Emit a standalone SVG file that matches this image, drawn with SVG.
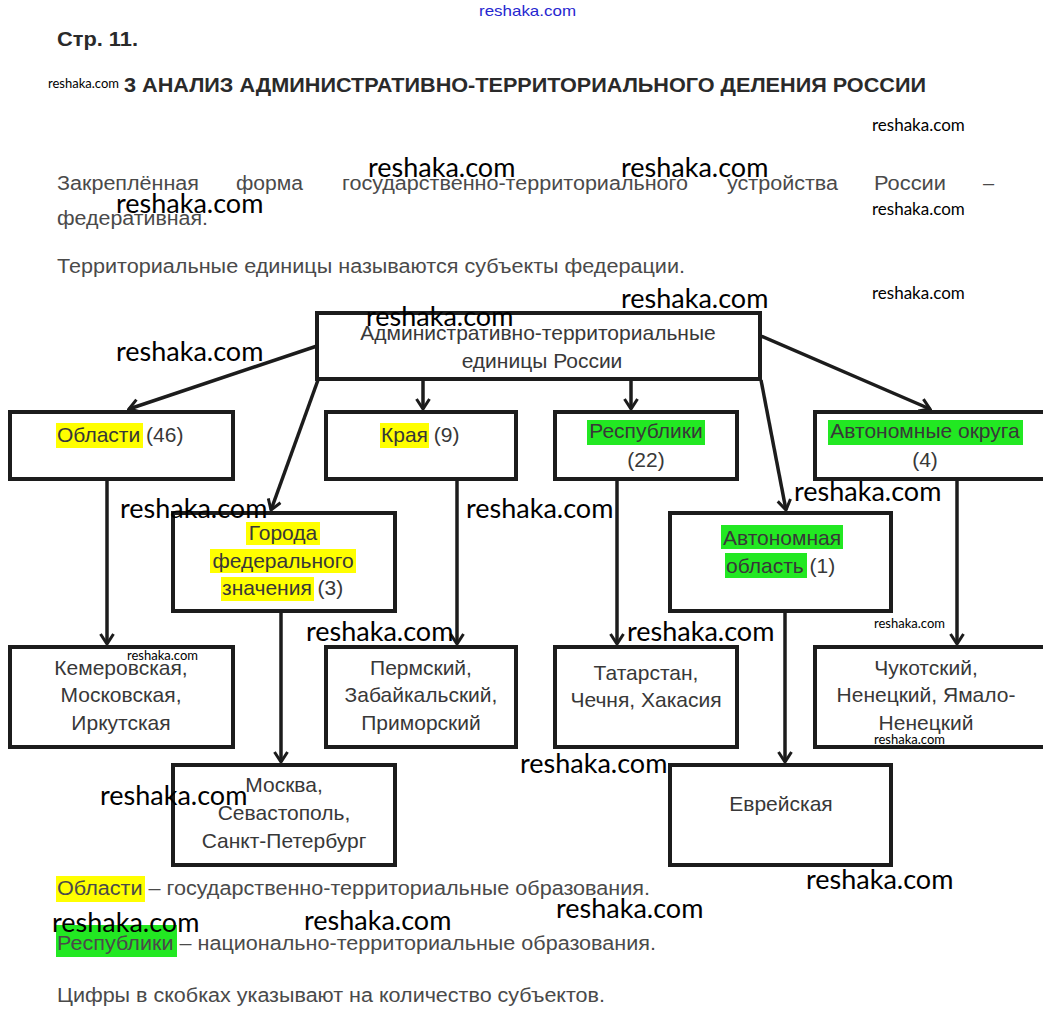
<svg xmlns="http://www.w3.org/2000/svg" width="1051" height="1022" viewBox="0 0 1051 1022">
<defs>
<style>
.bx{fill:#fff;stroke:#1c1c1c;stroke-width:4}
.op{fill:none;stroke:#1c1c1c;stroke-width:4}
.cn{fill:none;stroke:#1c1c1c;stroke-width:3.5;marker-end:url(#ah)}
.nt{font-family:"Liberation Sans",Arial,sans-serif;font-size:21px;fill:#383838}
.bd{font-family:"Liberation Sans",Arial,sans-serif;font-size:20px;fill:#4a4a4a}
.hd{font-family:"Liberation Sans",Arial,sans-serif;font-weight:bold;font-size:20px;fill:#2a2a2a}
.wm{font-family:Lato,"Open Sans",sans-serif;font-size:27px;fill:#000}
.ws{font-family:Lato,"Open Sans",sans-serif;font-size:17px;fill:#000}
.wx{font-family:Lato,"Open Sans",sans-serif;font-size:13px;fill:#000}
.yl{fill:#ffff00}
.gr{fill:#22e822}
</style>
<marker id="ah" viewBox="-12 -8 14 16" markerWidth="14" markerHeight="16" refX="0" refY="0" orient="auto" markerUnits="userSpaceOnUse">
<path d="M-10,-6.5 L0,0 L-10,6.5" fill="none" stroke="#1c1c1c" stroke-width="3"/>
</marker>
</defs>
<rect width="1051" height="1022" fill="#fff"/>

<g id="header">
<text x="479" y="16" font-family="'Liberation Sans',sans-serif" font-size="15" fill="#2626d0" textLength="97" lengthAdjust="spacingAndGlyphs">reshaka.com</text>
<text class="hd" x="57" y="46" font-size="19" textLength="81" lengthAdjust="spacingAndGlyphs">Стр. 11.</text>
<text class="wx" x="48" y="88">reshaka.com</text>
<text class="hd" x="124" y="92" textLength="802" lengthAdjust="spacingAndGlyphs">3 АНАЛИЗ АДМИНИСТРАТИВНО-ТЕРРИТОРИАЛЬНОГО ДЕЛЕНИЯ РОССИИ</text>
</g>

<g id="intro">
<text class="bd" y="190" x="57" textLength="142" lengthAdjust="spacingAndGlyphs">Закреплённая</text>
<text class="bd" y="190" x="236" textLength="67" lengthAdjust="spacingAndGlyphs">форма</text>
<text class="bd" y="190" x="342" textLength="346" lengthAdjust="spacingAndGlyphs">государственно-территориального</text>
<text class="bd" y="190" x="727" textLength="111" lengthAdjust="spacingAndGlyphs">устройства</text>
<text class="bd" y="190" x="874" textLength="72" lengthAdjust="spacingAndGlyphs">России</text>
<text class="bd" y="190" x="983">–</text>
<text class="bd" y="225" x="57" textLength="151" lengthAdjust="spacingAndGlyphs">федеративная.</text>
<text class="bd" y="273" x="57" textLength="628" lengthAdjust="spacingAndGlyphs">Территориальные единицы называются субъекты федерации.</text>
</g>

<g id="connectors">
<line class="cn" x1="317" y1="346" x2="129" y2="409"/>
<line class="cn" x1="318" y1="380" x2="271" y2="510"/>
<line class="cn" x1="423" y1="380" x2="423" y2="409"/>
<line class="cn" x1="631" y1="380" x2="631" y2="409"/>
<line class="cn" x1="761" y1="380" x2="786" y2="510"/>
<line class="cn" x1="761" y1="336" x2="930" y2="409"/>
<line class="cn" x1="107" y1="480" x2="107" y2="644"/>
<line class="cn" x1="457" y1="480" x2="457" y2="644"/>
<line class="cn" x1="617" y1="480" x2="617" y2="644"/>
<line class="cn" x1="957" y1="480" x2="957" y2="644"/>
<line class="cn" x1="281" y1="612" x2="281" y2="762"/>
<line class="cn" x1="785" y1="612" x2="785" y2="762"/>
</g>

<g id="n-root">
<rect class="bx" x="317" y="313" width="443" height="66"/>
<text class="nt" x="538" y="340" text-anchor="middle">Административно-территориальные</text>
<text class="nt" x="542" y="368" text-anchor="middle">единицы России</text>
</g>

<g id="n-oblasti">
<rect class="bx" x="10" y="412" width="223" height="67"/>
<rect class="yl" x="56" y="423" width="87" height="25"/>
<text class="nt" x="57" y="442">Области (46)</text>
</g>

<g id="n-kraya">
<rect class="bx" x="326" y="412" width="190" height="67"/>
<rect class="yl" x="380" y="423" width="49" height="25"/>
<text class="nt" x="381" y="442">Края (9)</text>
</g>

<g id="n-resp">
<rect class="bx" x="555" y="412" width="182" height="67"/>
<rect class="gr" x="587" y="420" width="118" height="25"/>
<text class="nt" x="646" y="438" text-anchor="middle">Республики</text>
<text class="nt" x="646" y="467" text-anchor="middle">(22)</text>
</g>

<g id="n-okruga">
<path class="op" d="M1043,412 H815 V479 H1043"/>
<rect class="gr" x="828" y="420" width="195" height="25"/>
<text class="nt" x="925" y="438" text-anchor="middle">Автономные округа</text>
<text class="nt" x="925" y="467" text-anchor="middle">(4)</text>
</g>

<g id="n-goroda">
<rect class="bx" x="173" y="513" width="222" height="98"/>
<rect class="yl" x="246" y="522" width="74" height="23"/>
<rect class="yl" x="210" y="549" width="146" height="24"/>
<rect class="yl" x="221" y="577" width="93" height="24"/>
<text class="nt" x="283" y="540" text-anchor="middle">Города</text>
<text class="nt" x="283" y="568" text-anchor="middle">федерального</text>
<text class="nt" x="222" y="595">значения (3)</text>
</g>

<g id="n-aobl">
<rect class="bx" x="670" y="513" width="221" height="98"/>
<rect class="gr" x="721" y="525" width="122" height="24"/>
<rect class="gr" x="725" y="553" width="82" height="25"/>
<text class="nt" x="782" y="545" text-anchor="middle">Автономная</text>
<text class="nt" x="726" y="573">область (1)</text>
</g>

<g id="n-kemer">
<rect class="bx" x="10" y="647" width="223" height="100"/>
<text class="nt" x="121" y="675" text-anchor="middle">Кемеровская,</text>
<text class="nt" x="121" y="702" text-anchor="middle">Московская,</text>
<text class="nt" x="121" y="730" text-anchor="middle">Иркутская</text>
</g>

<g id="n-perm">
<rect class="bx" x="326" y="647" width="190" height="100"/>
<text class="nt" x="421" y="675" text-anchor="middle">Пермский,</text>
<text class="nt" x="421" y="702" text-anchor="middle">Забайкальский,</text>
<text class="nt" x="421" y="730" text-anchor="middle">Приморский</text>
</g>

<g id="n-tatar">
<rect class="bx" x="555" y="647" width="182" height="100"/>
<text class="nt" x="646" y="680" text-anchor="middle">Татарстан,</text>
<text class="nt" x="646" y="707" text-anchor="middle">Чечня, Хакасия</text>
</g>

<g id="n-chuk">
<path class="op" d="M1043,647 H815 V747 H1043"/>
<text class="nt" x="926" y="675" text-anchor="middle">Чукотский,</text>
<text class="nt" x="926" y="702" text-anchor="middle">Ненецкий, Ямало-</text>
<text class="nt" x="926" y="730" text-anchor="middle">Ненецкий</text>
</g>

<g id="n-moskva">
<rect class="bx" x="173" y="765" width="222" height="100"/>
<text class="nt" x="284" y="792" text-anchor="middle">Москва,</text>
<text class="nt" x="284" y="820" text-anchor="middle">Севастополь,</text>
<text class="nt" x="284" y="848" text-anchor="middle">Санкт-Петербург</text>
</g>

<g id="n-evr">
<rect class="bx" x="670" y="765" width="221" height="100"/>
<text class="nt" x="781" y="811" text-anchor="middle">Еврейская</text>
</g>

<g id="notes">
<rect class="yl" x="56" y="876" width="89" height="26"/>
<text class="bd" x="57" y="895" textLength="593" lengthAdjust="spacingAndGlyphs">Области – государственно-территориальные образования.</text>
<rect class="gr" x="56" y="925" width="121" height="32"/>
<text class="bd" x="57" y="950" textLength="599" lengthAdjust="spacingAndGlyphs">Республики – национально-территориальные образования.</text>
<text class="bd" x="57" y="1002" textLength="548" lengthAdjust="spacingAndGlyphs">Цифры в скобках указывают на количество субъектов.</text>
</g>

<g id="watermarks">
<text class="ws" x="872" y="131">reshaka.com</text>
<text class="ws" x="872" y="215">reshaka.com</text>
<text class="ws" x="872" y="299">reshaka.com</text>
<text class="wm" x="368" y="177">reshaka.com</text>
<text class="wm" x="621" y="177">reshaka.com</text>
<text class="wm" x="116" y="213">reshaka.com</text>
<text class="wm" x="621" y="308">reshaka.com</text>
<text class="wm" x="366" y="326">reshaka.com</text>
<text class="wm" x="116" y="361">reshaka.com</text>
<text class="wm" x="120" y="518">reshaka.com</text>
<text class="wm" x="466" y="518">reshaka.com</text>
<text class="wm" x="794" y="501">reshaka.com</text>
<text class="wm" x="306" y="641">reshaka.com</text>
<text class="wm" x="627" y="641">reshaka.com</text>
<text class="wm" x="520" y="773">reshaka.com</text>
<text class="wm" x="100" y="805">reshaka.com</text>
<text class="wm" x="806" y="889">reshaka.com</text>
<text class="wm" x="556" y="918">reshaka.com</text>
<text class="wm" x="304" y="930">reshaka.com</text>
<text class="wm" x="52" y="932">reshaka.com</text>
<text class="wx" x="127" y="660">reshaka.com</text>
<text class="wx" x="874" y="628">reshaka.com</text>
<text class="wx" x="874" y="744">reshaka.com</text>
</g>
</svg>
